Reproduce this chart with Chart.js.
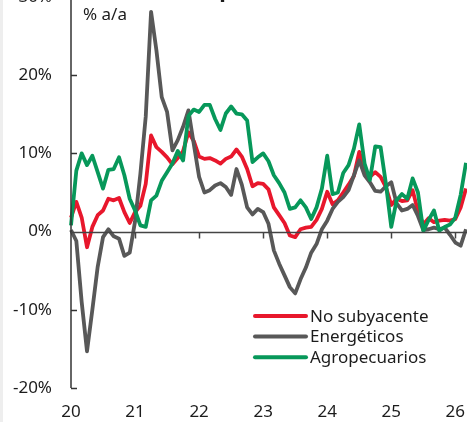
<!DOCTYPE html>
<html>
<head>
<meta charset="utf-8">
<script src="https://cdn.jsdelivr.net/npm/chart.js@4.4.0/dist/chart.umd.min.js"></script>
<style>
  html, body { margin: 0; padding: 0; background: #fff; overflow: hidden; }
  body { width: 467px; height: 422px; position: relative; }
  #edge { position: absolute; left: 0; top: 0; width: 3px; height: 422px; background: #eeeeee; }
  #wrap { position: absolute; left: 0; top: -20px; width: 467px; height: 442px; }
</style>
</head>
<body>
<div id="edge"></div>
<div id="wrap"><canvas id="myChart" width="467" height="442"></canvas></div>
<script>
// % a/a, mensual desde ene-2020
const noSubyacente = [1.8, 3.8, 1.8, -2.0, 0.6, 2.1, 2.7, 4.2, 4.0, 4.3, 2.5, 1.1,
    2.5, 3.3, 6.1, 12.3, 10.8, 10.2, 9.5, 8.6, 9.4, 10.3, 12.7, 11.6,
    9.6, 9.3, 9.4, 9.1, 8.7, 9.3, 9.6, 10.5, 9.6, 8.0, 5.8, 6.2,
    6.1, 5.4, 3.1, 2.1, 1.1, -0.5, -0.7, 0.3, 0.5, 0.6, 1.5, 2.9,
    5.1, 3.5, 4.0, 5.0, 6.0, 7.1, 10.2, 7.8, 7.0, 7.6, 7.0, 5.7,
    3.4, 4.2, 3.9, 4.0, 5.3, 2.6, 0.9, 1.7, 1.2, 1.4, 1.5, 1.4,
    1.6, 3.1, 5.5];
const energeticos = [0.2, -1.2, -9.0, -15.3, -10.0, -4.5, -0.7, 0.3, -0.6, -0.9, -3.1, -2.7,
    1.3, 7.4, 14.7, 28.1, 23.2, 17.2, 15.3, 10.4, 11.7, 13.4, 15.5, 11.2,
    7.0, 5.0, 5.3, 5.9, 6.2, 5.7, 4.7, 8.0, 6.0, 3.1, 2.2, 2.9,
    2.5, 1.0, -2.4, -4.1, -5.6, -7.1, -7.9, -6.1, -4.6, -2.7, -1.6, 0.3,
    1.4, 2.9, 3.8, 4.4, 5.3, 7.2, 9.1, 7.2, 6.3, 5.2, 5.1, 5.8,
    6.3, 3.6, 2.7, 2.9, 3.4, 2.0, 0.2, 0.3, 0.5, 0.3, 0.5, -0.4,
    -1.4, -1.8, 0.3];
const agropecuarios = [0.8, 7.8, 10.0, 8.5, 9.7, 7.6, 5.5, 7.9, 8.0, 9.5, 7.2, 4.2,
    2.7, 0.8, 0.6, 4.0, 4.6, 6.5, 7.6, 8.7, 10.3, 9.1, 14.8, 15.6,
    15.3, 16.2, 16.2, 14.4, 13.0, 15.1, 16.0, 15.1, 15.0, 14.2, 8.9, 9.5,
    10.0, 9.0, 7.2, 6.2, 5.0, 2.9, 3.1, 4.0, 3.1, 1.6, 3.1, 5.5,
    9.7, 4.8, 5.0, 7.5, 8.5, 10.6, 13.7, 8.7, 6.6, 10.9, 10.8, 6.1,
    0.6, 4.0, 4.8, 4.2, 6.8, 5.0, 0.1, 1.5, 2.7, 0.1, 0.6, 0.9,
    1.8, 4.7, 8.8];
const seriesNames = ['No subyacente', 'Energéticos', 'Agropecuarios'];
const seriesColors = ['#e8172c', '#585858', '#07985a'];
const yTicks = [-20, -10, 0, 10, 20, 30];
const startYear = 2020;

const months = noSubyacente.map((v, i) => {
    const y = startYear + Math.floor(i / 12);
    const m = (i % 12) + 1;
    return `${y}-${String(m).padStart(2, '0')}`;
});

const fontFam = '"Noto Sans", "Open Sans", sans-serif';
const ink = '#1c1c1c';

const axesPlugin = {
    id: 'axesPlugin',
    afterDatasetsDraw(chart) {
        const {ctx, chartArea, scales: {x, y}} = chart;
        ctx.save();
        ctx.strokeStyle = '#333';
        ctx.lineWidth = 1.5;
        // eje y
        ctx.beginPath();
        ctx.moveTo(x.left, chartArea.top);
        ctx.lineTo(x.left, y.getPixelForValue(-20));
        ctx.stroke();
        yTicks.forEach(v => {
            if (v === 0) return;
            const py = Math.round(y.getPixelForValue(v)) + 0.5;
            ctx.beginPath();
            ctx.moveTo(x.left, py);
            ctx.lineTo(x.left + 6, py);
            ctx.stroke();
        });
        // linea de cero
        const y0 = Math.round(y.getPixelForValue(0)) + 0.5;
        ctx.strokeStyle = '#444';
        ctx.beginPath();
        ctx.moveTo(x.left, y0);
        ctx.lineTo(chart.width, y0);
        ctx.stroke();
        months.forEach((lab, i) => {
            if (i === 0 || !lab.endsWith('-01')) return;
            const px = Math.round(x.getPixelForValue(i)) + 0.5;
            ctx.beginPath();
            ctx.moveTo(px, y0);
            ctx.lineTo(px, y0 + 6);
            ctx.stroke();
        });
        // unidades y titulo
        ctx.fillStyle = ink;
        ctx.font = `17px ${fontFam}`;
        ctx.textBaseline = 'alphabetic';
        ctx.fillText('% a/a', 83, 40);
        ctx.font = `bold 22px ${fontFam}`;
        ctx.fillText('Componentes', 170, 17);
        // leyenda
        ctx.font = `17px ${fontFam}`;
        ctx.textBaseline = 'middle';
        chart.data.datasets.slice().reverse().forEach((ds, k) => {
            const ly = 336 + k * 20.6;
            ctx.strokeStyle = ds.borderColor;
            ctx.lineWidth = 4;
            ctx.lineCap = 'round';
            ctx.beginPath();
            ctx.moveTo(255, ly);
            ctx.lineTo(306, ly);
            ctx.stroke();
            ctx.fillStyle = ink;
            ctx.fillText(ds.label, 310, ly + 1);
        });
        ctx.restore();
    }
};

const ctx = document.getElementById('myChart').getContext('2d');
const chart = new Chart(ctx, {
    type: 'line',
    data: {
        labels: months,
        datasets: [noSubyacente, energeticos, agropecuarios].map((d, k) => ({
            label: seriesNames[k],
            data: d,
            borderColor: seriesColors[k],
            borderWidth: 3.8,
            pointRadius: 0,
            tension: 0,
            clip: false,
            borderJoinStyle: 'round',
        })).reverse(),
    },
    options: {
        responsive: false,
        animation: false,
        devicePixelRatio: 1,
        layout: {padding: {top: 17, right: 1, left: 0, bottom: 0}},
        plugins: {legend: {display: false}, tooltip: {enabled: false}},
        scales: {
            x: {
                type: 'category',
                offset: false,
                grid: {display: false, drawTicks: false},
                border: {display: false},
                afterFit: (s) => { s.height = 34; s.paddingLeft = 0; s.paddingRight = 0; },
                ticks: {
                    autoSkip: false,
                    maxRotation: 0,
                    padding: 14,
                    color: ink,
                    font: {family: fontFam, size: 17},
                    callback: (v, i) => months[i].endsWith('-01') ? months[i].slice(2, 4) : '',
                },
            },
            y: {
                min: -20,
                max: 30,
                afterFit: (s) => { s.width = 71; s.paddingTop = 0; s.paddingBottom = 0; },
                afterBuildTicks: (s) => { s.ticks = yTicks.map(v => ({value: v})); },
                grid: {display: false, drawTicks: false},
                border: {display: false},
                ticks: {
                    padding: 19,
                    color: ink,
                    font: {family: fontFam, size: 17},
                    callback: (v) => `${v}%`,
                },
            },
        },
    },
    plugins: [axesPlugin],
});
</script>
</body>
</html>
